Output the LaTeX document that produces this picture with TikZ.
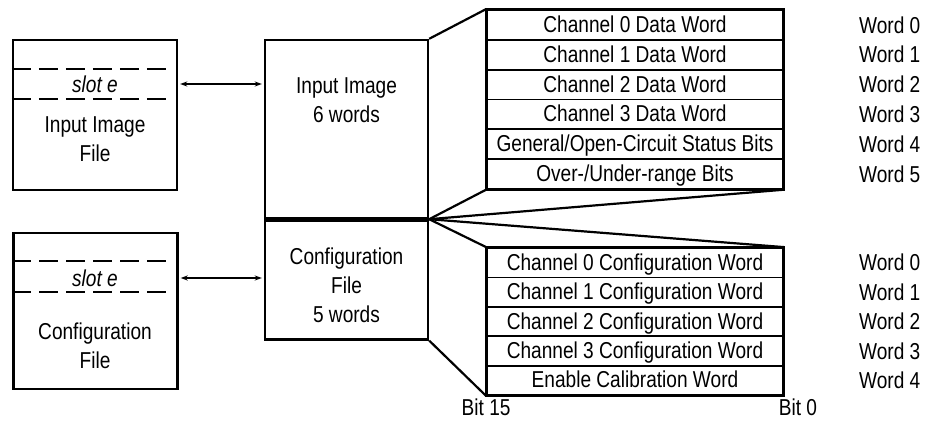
\documentclass[tikz,border=0pt]{standalone}
\usepackage{fontspec}
\setmainfont{Liberation Sans}[FakeStretch=0.83]
\usetikzlibrary{arrows.meta,positioning}

\tikzset{
  filebox/.style={draw, line width=2.4pt, minimum width=164pt, inner sep=0pt},
  wordrow/.style={draw, line width=1.8pt, minimum width=296pt, inner sep=0pt,
    text height=16pt, text depth=1pt},
  slotline/.style={line width=2.4pt, dash pattern=on 19pt off 8pt},
  fanline/.style={line width=2.2pt},
  xfer/.style={line width=1.4pt, {Stealth[length=7pt,width=5pt]}-{Stealth[length=7pt,width=5pt]}},
  lbl/.style={font=\fontsize{23}{29}\selectfont, align=center, inner sep=0pt},
  slotlbl/.style={font=\fontsize{23}{29}\selectfont\itshape, inner sep=0pt}
}

\begin{document}
\begin{tikzpicture}[x=1pt, y=-1pt]
  \useasboundingbox (0,0) rectangle (927,423);

  % processor side: input image and configuration files
  \node[filebox, minimum height=150pt] (imgfile) at (95,115) {};
  \draw[slotline] ([yshift=-30pt]imgfile.north west) -- ++(157,0);
  \draw[slotline] ([yshift=-60pt]imgfile.north west) -- ++(157,0);
  \node[slotlbl] (imgslot) at (95,84) {slot e};
  \node[lbl] (imgtxt) at (95,139) {Input Image\\File};

  \node[filebox, minimum height=156pt] (cfgfile) at (95.5,311) {};
  \draw[slotline] ([yshift=-29pt]cfgfile.north west) -- ++(157,0);
  \draw[slotline] ([yshift=-60pt]cfgfile.north west) -- ++(157,0);
  \node[slotlbl] (cfgslot) at (95,278) {slot e};
  \node[lbl] (cfgtxt) at (95,346) {Configuration\\File};

  % module side
  \node[filebox, minimum height=178pt, minimum width=163pt] (inimg) at (346.5,129) {};
  \node[filebox, minimum height=119pt, minimum width=163pt, anchor=north] (cfg) at (inimg.south) {};
  \node[lbl] (inimgtxt) at (346.5,100) {Input Image\\6 words};
  \node[lbl] (cfgmodtxt) at (346.5,285) {Configuration\\File\\5 words};

  \draw[xfer] ([xshift=2pt]imgfile.east |- imgslot) -- ([xshift=-2pt]inimg.west |- imgslot);
  \draw[xfer] ([xshift=2pt]cfgfile.east |- cfgslot) -- ([xshift=-2pt]cfg.west |- cfgslot);

  % input image words
  \foreach \i/\txt in {0/Channel 0 Data Word, 1/Channel 1 Data Word,
      2/Channel 2 Data Word, 3/Channel 3 Data Word,
      4/{General/Open-Circuit Status Bits}, 5/{Over-/Under-range Bits}} {
    \node[wordrow, minimum height=29.8pt, font=\fontsize{23}{24}\selectfont]
      (dat\i) at (635,{24.9+29.8*\i}) {\txt};
    \node[lbl, right=75pt of dat\i] (datw\i) {Word \i};
  }
  \draw[line width=2.4pt] (dat0.north west) rectangle (dat5.south east);

  % configuration words
  \foreach \i/\txt in {0/Channel 0 Configuration Word, 1/Channel 1 Configuration Word,
      2/Channel 2 Configuration Word, 3/Channel 3 Configuration Word,
      4/Enable Calibration Word} {
    \node[wordrow, minimum height=29.4pt, font=\fontsize{23}{24}\selectfont]
      (cfw\i) at (635,{262.7+29.4*\i}) {\txt};
    \node[lbl, right=75pt of cfw\i] (cfww\i) {Word \i};
  }
  \draw[line width=2.4pt] (cfw0.north west) rectangle (cfw4.south east);

  \node[lbl, below=3pt of cfw4.south west] (bithi) {Bit 15};
  \node[lbl, below=3pt of cfw4.south east, xshift=14pt] (bitlo) {Bit 0};

  % fan-out lines
  \draw[fanline] (inimg.north east) -- (dat0.north west);
  \draw[fanline] (inimg.south east) -- (dat5.south west);
  \draw[fanline] (inimg.south east) -- (dat5.south east);
  \draw[fanline] (inimg.south east) -- (cfw0.north east);
  \draw[fanline] (inimg.south east) -- (cfw0.north west);
  \draw[fanline] (cfg.south east) -- (cfw4.south west);
\end{tikzpicture}
\end{document}
